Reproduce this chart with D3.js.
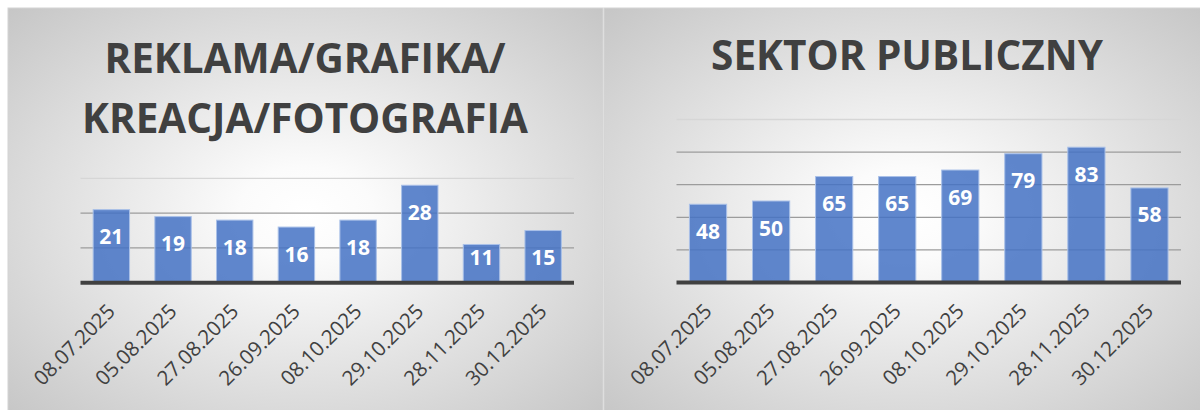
<!DOCTYPE html>
<html lang="pl">
<head>
    <meta charset="UTF-8">
    <title>Oferty pracy</title>
    <script src="https://cdnjs.cloudflare.com/ajax/libs/d3/7.8.5/d3.min.js"></script>
    <style>
        body { margin: 0; background: #fff; }
        .title { font: 700 40.5px "Open Sans", sans-serif; fill: #404040; text-anchor: middle; }
        .value { font: 700 21px "Open Sans", sans-serif; fill: #fff; text-anchor: middle; }
        .tick-label { font: 400 20.5px "Open Sans", sans-serif; fill: #404040; text-anchor: end; }
    </style>
</head>
<body>
<script>
    // data
    var dates = ["08.07.2025", "05.08.2025", "27.08.2025", "26.09.2025",
                 "08.10.2025", "29.10.2025", "28.11.2025", "30.12.2025"];
    var reklamaValues = [21, 19, 18, 16, 18, 28, 11, 15];
    var publicznyValues = [48, 50, 65, 65, 69, 79, 83, 58];
    var reklamaTicks = [10, 20, 30];
    var publicznyTicks = [20, 40, 60, 80, 100];
    var reklamaTitle = ["REKLAMA/GRAFIKA/", "KREACJA/FOTOGRAFIA"];
    var publicznyTitle = ["SEKTOR PUBLICZNY"];

    var width = 1200, height = 410;

    var svg = d3.select("body").append("svg")
        .attr("width", width)
        .attr("height", height);

    // radial background, white in the middle, grey at the corners
    var grad = svg.append("defs").append("radialGradient")
        .attr("id", "bg")
        .attr("cx", 0.5).attr("cy", 0.5).attr("r", 0.75);
    grad.append("stop").attr("offset", 0).attr("stop-color", "#ffffff");
    grad.append("stop").attr("offset", 0.15).attr("stop-color", "#fbfbfb");
    grad.append("stop").attr("offset", 1).attr("stop-color", "#c2c2c2");

    function drawPanel(opt) {
        var g = svg.append("g");

        g.append("rect")
            .attr("x", opt.x0).attr("y", 8)
            .attr("width", opt.x1 - opt.x0).attr("height", height)
            .attr("fill", "url(#bg)")
            .attr("stroke", "#d4d4d4");

        // title
        g.selectAll(".title")
            .data(opt.title)
            .enter().append("text")
            .attr("class", "title")
            .attr("x", opt.titleX)
            .attr("y", function(d, i) { return opt.titleY + i * 60; })
            .text(function(d) { return d; });

        var x = d3.scaleBand()
            .domain(dates)
            .range([opt.left, opt.right])
            .paddingInner(0.41)
            .paddingOuter(0.205);

        var y = d3.scaleLinear()
            .domain([0, d3.max(opt.ticks)])
            .range([opt.base, opt.top]);

        // gridlines
        g.selectAll(".grid")
            .data(opt.ticks)
            .enter().append("line")
            .attr("class", "grid")
            .attr("x1", opt.left).attr("x2", opt.right)
            .attr("y1", function(d) { return y(d); })
            .attr("y2", function(d) { return y(d); })
            .attr("stroke", function(d, i) { return i == opt.ticks.length - 1 ? "#d6d6d6" : "#9c9c9c"; })
            .attr("stroke-width", 1.3);

        // bars
        g.selectAll(".bar")
            .data(opt.values)
            .enter().append("rect")
            .attr("class", "bar")
            .attr("x", function(d, i) { return x(dates[i]); })
            .attr("y", function(d) { return y(d); })
            .attr("width", x.bandwidth())
            .attr("height", function(d) { return opt.base - y(d); })
            .attr("fill", "#4472c4")
            .attr("fill-opacity", 0.85)
            .attr("stroke", "#a9c0e8")
            .attr("stroke-width", 1);

        // value labels, inside end
        g.selectAll(".value")
            .data(opt.values)
            .enter().append("text")
            .attr("class", "value")
            .attr("x", function(d, i) { return x(dates[i]) + x.bandwidth() / 2; })
            .attr("y", function(d) { return Math.min(y(d) + 27, opt.base - 25) + 7.5; })
            .text(function(d) { return d; });

        // category axis
        g.append("line")
            .attr("x1", opt.left).attr("x2", opt.right)
            .attr("y1", opt.base).attr("y2", opt.base)
            .attr("stroke", "#404040")
            .attr("stroke-width", 4);

        g.selectAll(".tick-label")
            .data(dates)
            .enter().append("text")
            .attr("class", "tick-label")
            .attr("transform", function(d) {
                return "translate(" + (x(d) + x.bandwidth() / 2 + 5) + "," + (opt.base + 30) + ") rotate(-45)";
            })
            .text(function(d) { return d; });
    }

    drawPanel({
        x0: 8, x1: 603,
        title: reklamaTitle, titleX: 305, titleY: 73,
        left: 80.5, right: 574, top: 178.3, base: 282.8,
        values: reklamaValues, ticks: reklamaTicks
    });

    drawPanel({
        x0: 604, x1: 1210,
        title: publicznyTitle, titleX: 907, titleY: 70,
        left: 676.5, right: 1181, top: 119.5, base: 282.5,
        values: publicznyValues, ticks: publicznyTicks
    });
</script>
</body>
</html>
